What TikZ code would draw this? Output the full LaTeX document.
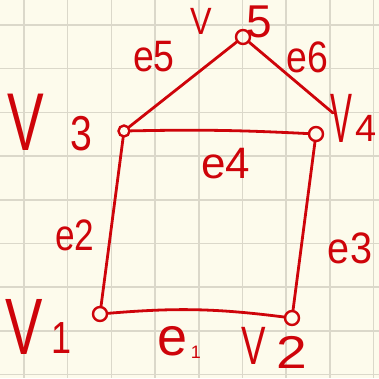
\documentclass[tikz,border=0pt]{standalone}
\usepackage{fontspec}
\setmainfont{Liberation Sans}
\definecolor{paper}{RGB}{253,251,236}
\definecolor{gridc}{RGB}{219,216,202}
\definecolor{ink}{RGB}{206,4,10}
\newcommand\hw[3]{\scalebox{#2}[1]{\fontsize{#1}{#1}\selectfont #3}}
\begin{document}
\begin{tikzpicture}[x=1pt,y=-1pt,
  vtx/.style={circle,draw=ink,line width=2.4pt,minimum size=14pt,inner sep=0pt},
  edge/.style={draw=ink,line width=2.8pt,line cap=round},
  lbl/.style={text=ink,inner sep=0pt}]
\fill[paper] (0,0) rectangle (379,378);
\useasboundingbox (0,0) rectangle (379,378);
\foreach \i in {0,...,8} {
  \draw[gridc,line width=1.5pt] (24+43.7*\i,0) -- (24+43.7*\i,378);
  \draw[gridc,line width=1.5pt] (0,25+43.7*\i) -- (379,25+43.7*\i);
}
% vertices
\node[vtx] (v1) at (100,314) {};
\node[vtx] (v2) at (292,318) {};
\node[vtx,minimum size=11pt] (v3) at (124,131) {};
\node[vtx] (v4) at (316,134) {};
\node[vtx] (v5) at (243,37) {};
\coordinate (e6end) at (333,113);
% edges
\draw[edge] (v1) to[bend left=6] (v2);
\draw[edge] (v3) -- (v1);
\draw[edge] (v4) -- (v2);
\draw[edge] (v3) to[bend left=2] (v4);
\draw[edge] (v3) -- (v5);
\draw[edge] (v5) -- (e6end);
% vertex labels
\node[lbl] (l5v) at (201,21) {\hw{38}{0.85}{V}};
\node[lbl] (l5d) at (259,22) {\hw{46}{1}{5}};
\node[lbl] (l4v) at (341,118) {\hw{70}{0.47}{V}};
\node[lbl] (l4d) at (366,128) {\hw{38}{1}{4}};
\node[lbl] (l3v) at (26,122) {\hw{82}{0.67}{V}};
\node[lbl] (l3d) at (81,134) {\hw{49}{0.8}{3}};
\node[lbl] (l1v) at (24,327) {\hw{80}{0.7}{V}};
\node[lbl] (l1d) at (62,338) {\hw{45}{0.8}{1}};
\node[lbl] (l2v) at (254,346) {\hw{54}{0.68}{V}};
\node[lbl] (l2d) at (292,352) {\hw{46}{1.2}{2}};
% edge labels
\node[lbl] (le5) at (154,57) {\hw{44}{0.85}{e5}};
\node[lbl] (le6) at (307,57) {\hw{44}{0.85}{e6}};
\node[lbl] (le4) at (226,164) {\hw{44}{1}{e4}};
\node[lbl] (le2) at (75,235) {\hw{44}{0.8}{e2}};
\node[lbl] (le3) at (350,248) {\hw{44}{0.9}{e3}};
\node[lbl] (le1e) at (173,341) {\hw{54}{1}{e}};
\node[lbl] (le1d) at (196,352) {\hw{18}{1}{1}};
\end{tikzpicture}
\end{document}
